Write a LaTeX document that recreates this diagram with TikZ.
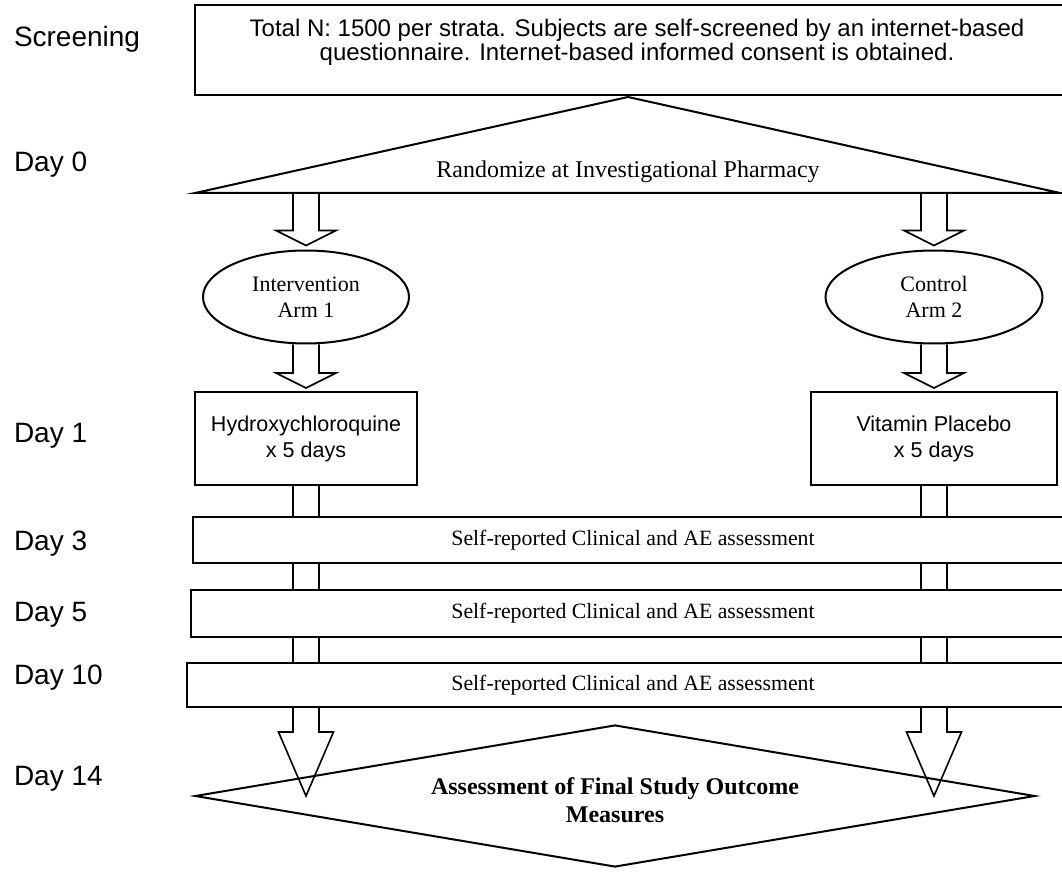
\documentclass[tikz,border=0pt]{standalone}
\usepackage{fontspec}
\setmainfont{Liberation Serif}
\newfontfamily\arialfont{Liberation Sans}
\usetikzlibrary{shapes.geometric, calc}

% block arrow: head length, head half width, from, to
\newcommand{\fatarrow}[4]{%
  \draw[arrowline] let \p1=#3, \p2=#4 in
    (\x1-6.5pt,\y1) -- (\x1-6.5pt,\y2+#1) -- (\x1-#2,\y2+#1) -- (\x1,\y2)
    -- (\x1+#2,\y2+#1) -- (\x1+6.5pt,\y2+#1) -- (\x1+6.5pt,\y1);
}

\begin{document}
\begin{tikzpicture}[x=0.5pt, y=-0.5pt, line width=1pt,
    daylabel/.style={anchor=base west, inner sep=0pt, font=\arialfont\fontsize{14}{16}\selectfont},
    box/.style={draw, fill=white, inner sep=0pt},
    arm/.style={draw, ellipse, inner sep=0pt, minimum height=46.5pt, align=center, font=\fontsize{11}{13}\selectfont},
    drug/.style={box, minimum width=111pt, minimum height=46.5pt, align=center, font=\arialfont\fontsize{10.75}{13}\selectfont},
    visit/.style={box, font=\fontsize{10.9}{13}\selectfont},
    arrowline/.style={line width=0.8pt}]
    \useasboundingbox (0,0) rectangle (1062,877);

    % Time points
    \node[daylabel] (screening) at (13,47) {Screening};
    \node[daylabel] (day0) at (13,172) {Day 0};
    \node[daylabel] (day1) at (13,443) {Day 1};
    \node[daylabel] (day3) at (13,551) {Day 3};
    \node[daylabel] (day5) at (13,622) {Day 5};
    \node[daylabel] (day10) at (13,684) {Day 10};
    \node[daylabel] (day14) at (13,785) {Day 14};

    % Screening
    \node[box, minimum width=442pt, minimum height=45pt] (screen) at (637,50) {};
    \node[anchor=north, align=center, inner sep=0pt, font=\arialfont\fontsize{12}{12}\selectfont] (screentext) at (637,18)
        {Total N: 1500 per strata. Subjects are self-screened by an internet-based\\questionnaire. Internet-based informed consent is obtained.};

    % Randomization
    \coordinate (apex) at (628,97);
    \coordinate (baseL) at (195,193);
    \coordinate (baseR) at (1060,193);
    \draw (baseL) -- (apex) -- (baseR) -- cycle;
    \node[font=\fontsize{12}{14}\selectfont] (rand) at (628,172) {Randomize at Investigational Pharmacy};

    % Study arms
    \node[arm, minimum width=103pt] (arm1) at (306,297) {Intervention\\Arm 1};
    \node[arm, minimum width=108.5pt] (arm2) at (934,297) {Control\\Arm 2};

    % Day 1 treatment
    \node[drug] (hcq) at (306,438.5) {Hydroxychloroquine\\x 5 days};
    \node[drug, minimum width=123pt] (vit) at (934,438.5) {Vitamin Placebo\\x 5 days};

    % Final assessment
    \node[draw, diamond, aspect=6, inner sep=0pt, minimum width=420pt, minimum height=71pt, align=center,
        font=\bfseries\fontsize{12}{14}\selectfont] (final) at (615,796) {};
    \node[align=center, inner sep=0pt, font=\bfseries\fontsize{12}{14}\selectfont] (finaltext) at (615,800)
        {Assessment of Final Study Outcome\\Measures};

    % Block arrows
    \fatarrow{7.5pt}{15pt}{(arm1 |- baseL)}{($(arm1.north)+(0,-4)$)}
    \fatarrow{7.5pt}{15pt}{(arm2 |- baseR)}{($(arm2.north)+(0,-4)$)}
    \fatarrow{7.5pt}{15pt}{(arm1.south)}{($(hcq.north)+(0,-3)$)}
    \fatarrow{7.5pt}{15pt}{(arm2.south)}{($(vit.north)+(0,-3)$)}
    \fatarrow{32pt}{13.75pt}{(hcq.south)}{(hcq |- final.center)}
    \fatarrow{32pt}{13.75pt}{(vit.south)}{(vit |- final.center)}

    % Follow-up assessments
    \node[visit, minimum width=440pt, minimum height=23pt] (visit3) at (633,540) {Self-reported Clinical and AE assessment};
    \node[visit, minimum width=442pt, minimum height=23.5pt] (visit5) at (633,613.5) {Self-reported Clinical and AE assessment};
    \node[visit, minimum width=446pt, minimum height=22pt] (visit10) at (633,685) {Self-reported Clinical and AE assessment};
\end{tikzpicture}
\end{document}
